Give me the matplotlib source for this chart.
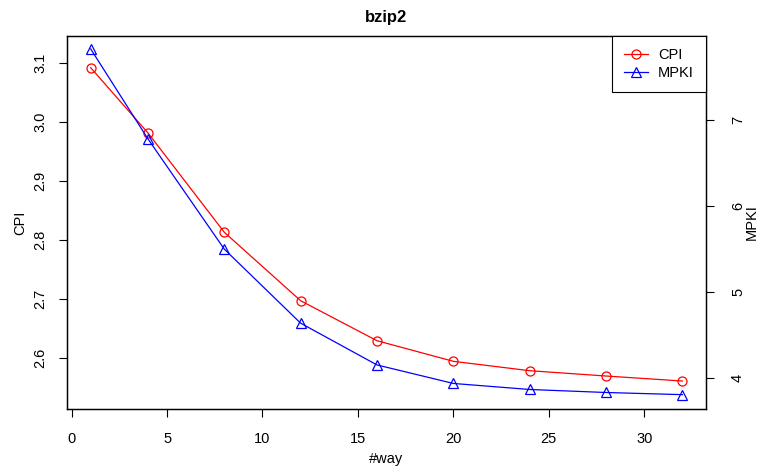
import numpy as np
import matplotlib.pyplot as plt

plt.rcParams["font.family"] = ["Liberation Sans", "DejaVu Sans"]

ways = [1, 4, 8, 12, 16, 20, 24, 28, 32]
cpi = [3.0925, 2.982, 2.8136, 2.6976, 2.6298, 2.5949, 2.579, 2.570, 2.5615]
mpki = [7.825, 6.78, 5.50, 4.64, 4.155, 3.94, 3.87, 3.835, 3.81]

fig = plt.figure(figsize=(7.6, 4.66), dpi=100)
ax = fig.add_axes([0.0882, 0.1217, 0.929 - 0.0882, 0.9234 - 0.1217])
ax2 = ax.twinx()

l1, = ax.plot(ways, cpi, color="red", lw=0.9, marker="o", ms=6.5,
              mfc="none", mec="red", mew=0.9, label="CPI")
l2, = ax2.plot(ways, mpki, color="blue", lw=0.9, marker="^", ms=7.5,
               mfc="none", mec="blue", mew=0.9, label="MPKI")

ax.set_xlim(-0.24, 33.24)
ax.set_ylim(2.5136, 3.1468)
ax2.set_ylim(3.64, 7.979)

ax.set_xticks([0, 5, 10, 15, 20, 25, 30])
ax.set_yticks([2.6, 2.7, 2.8, 2.9, 3.0, 3.1])
ax2.set_yticks([4, 5, 6, 7])

fs = 10.5
for a in (ax, ax2):
    for s in a.spines.values():
        s.set_linewidth(0.9)
    a.tick_params(length=6, width=0.8, labelsize=fs, pad=8)
ax.tick_params(axis="y", labelrotation=90)
ax2.tick_params(axis="y", labelrotation=90, pad=12)
for t in ax.get_yticklabels():
    t.set_va("center")
for t in ax2.get_yticklabels():
    t.set_va("center")
ax.tick_params(axis="x", pad=10)

ax.set_xlabel("#way", fontsize=fs, labelpad=5)
# axis titles placed like R's mtext lines
ymid = 1 - 222.5 / 466
fig.text(20 / 760, ymid, "CPI", rotation=90, ha="center", va="center", fontsize=fs)
fig.text(752 / 760, ymid, "MPKI", rotation=90, ha="center", va="center", fontsize=fs)
ax.set_title("bzip2", fontsize=12, fontweight="bold", pad=10)

leg = ax2.legend(handles=[l1, l2], loc="upper right", borderaxespad=0,
                 fancybox=False, edgecolor="black", framealpha=1,
                 fontsize=fs, handlelength=1.6, borderpad=0.85,
                 labelspacing=0.25, handletextpad=0.7)
leg.get_frame().set_linewidth(0.8)

fig.savefig("out.png", dpi=100)
